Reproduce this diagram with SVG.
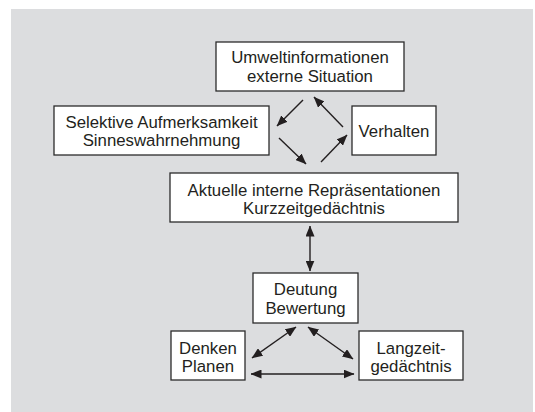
<svg xmlns="http://www.w3.org/2000/svg" width="535" height="412" viewBox="0 0 535 412">
<style>
.box{fill:#ffffff;stroke:#2b2b2b;stroke-width:1.3}
.t{font-family:"Liberation Sans",Arial,sans-serif;font-size:16.8px;fill:#231f20;text-anchor:middle}
.c{stroke:#231f20;stroke-width:1.4;fill:none}
</style>
<defs>
<marker id="ah" viewBox="0 0 11 9" refX="10.5" refY="4.5" markerWidth="11" markerHeight="9" markerUnits="userSpaceOnUse" orient="auto-start-reverse">
<path d="M0,0 L11,4.5 L0,9 z" fill="#231f20"/>
</marker>
</defs>
<rect x="11" y="9" width="522" height="404" fill="#dcdddf"/>
<g id="umwelt">
<rect class="box" x="216" y="42" width="188" height="49"/>
<text class="t" x="310" y="62.5">Umweltinformationen</text>
<text class="t" x="310" y="81.5">externe Situation</text>
</g>
<g id="selektive">
<rect class="box" x="54" y="106" width="215" height="49"/>
<text class="t" x="161.5" y="127.5">Selektive Aufmerksamkeit</text>
<text class="t" x="161.5" y="146">Sinneswahrnehmung</text>
</g>
<g id="verhalten">
<rect class="box" x="352" y="106" width="84" height="49"/>
<text class="t" x="394" y="136.5">Verhalten</text>
</g>
<g id="aktuelle">
<rect class="box" x="170" y="173" width="288" height="49"/>
<text class="t" x="314" y="196">Aktuelle interne Repräsentationen</text>
<text class="t" x="314" y="213.5">Kurzzeitgedächtnis</text>
</g>
<g id="deutung">
<rect class="box" x="253" y="273" width="105" height="50"/>
<text class="t" x="305.5" y="295">Deutung</text>
<text class="t" x="305.5" y="314">Bewertung</text>
</g>
<g id="denken">
<rect class="box" x="171" y="331" width="74" height="49"/>
<text class="t" x="208" y="353.5">Denken</text>
<text class="t" x="208" y="371.5">Planen</text>
</g>
<g id="langzeit">
<rect class="box" x="359" y="331" width="104" height="49"/>
<text class="t" x="411" y="353.5">Langzeit-</text>
<text class="t" x="411" y="371.5">gedächtnis</text>
</g>
<g id="connectors">
<line class="c" x1="303" y1="100" x2="277" y2="126" marker-end="url(#ah)"/>
<line class="c" x1="343" y1="127" x2="314" y2="97" marker-end="url(#ah)"/>
<line class="c" x1="279" y1="138" x2="306" y2="164" marker-end="url(#ah)"/>
<line class="c" x1="321" y1="162" x2="347" y2="135" marker-end="url(#ah)"/>
<line class="c" x1="310" y1="226" x2="310" y2="271" marker-start="url(#ah)" marker-end="url(#ah)"/>
<line class="c" x1="252" y1="358" x2="296" y2="327" marker-start="url(#ah)" marker-end="url(#ah)"/>
<line class="c" x1="308" y1="327" x2="353" y2="359" marker-start="url(#ah)" marker-end="url(#ah)"/>
<line class="c" x1="251" y1="374" x2="354" y2="374" marker-start="url(#ah)" marker-end="url(#ah)"/>
</g>
</svg>
